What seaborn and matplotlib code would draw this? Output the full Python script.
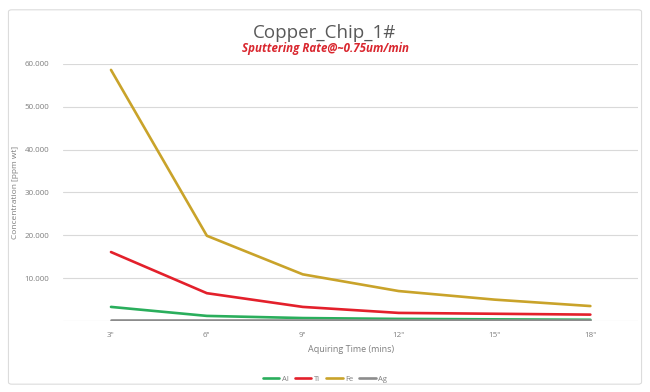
import pandas as pd
import matplotlib.pyplot as plt
import seaborn as sns
from matplotlib.patches import FancyBboxPatch

times = ['3"', '6"', '9"', '12"', '15"', '18"']
al = [3300, 1200, 700, 500, 400, 300]
ti = [16100, 6500, 3300, 1900, 1700, 1500]
fe = [58600, 19900, 10900, 7000, 5000, 3500]
ag = [150, 150, 150, 150, 150, 150]
elements = ['Al', 'Ti', 'Fe', 'Ag']
colors = ['#2aae5c', '#e3202b', '#c9a32a', '#8c8c8c']
yticks = [10000, 20000, 30000, 40000, 50000, 60000]

df = pd.DataFrame({
    'time': times * 4,
    'conc': al + ti + fe + ag,
    'element': [e for e in elements for _ in times],
})

sns.set_style('white')
plt.rcParams['font.family'] = ['Open Sans', 'DejaVu Sans']

fig = plt.figure(figsize=(6.5, 3.92), dpi=100)
# thin rounded frame like the Excel chart area
fig.patches.append(FancyBboxPatch((0.013, 0.02), 0.974, 0.955, boxstyle='round,pad=0,rounding_size=0.005',
                                  transform=fig.transFigure, fill=False, edgecolor='#dcdcdc', linewidth=0.8))
ax = fig.add_axes([0.097, 0.181, 0.885, 0.656])

sns.lineplot(data=df, x='time', y='conc', hue='element', palette=colors, linewidth=1.9,
             sort=False, ax=ax, legend=False)

ax.set_xlim(-0.5, len(times) - 0.5)
ax.set_ylim(0, 60000)
ax.set_yticks(yticks)
ax.set_yticklabels([f'{t:,}'.replace(',', '.') for t in yticks], fontsize=5.8, color='#7f7f7f')
ax.tick_params(axis='x', labelsize=5.8, labelcolor='#7f7f7f', length=0, pad=8)
ax.tick_params(axis='y', length=0, pad=10)
ax.grid(axis='y', color='#d9d9d9', linewidth=0.8)
ax.axhline(0, color='#d9d9d9', linewidth=0.8, zorder=0)
for s in ax.spines.values():
    s.set_visible(False)

ax.set_xlabel('Aquiring Time (mins)', fontsize=6.5, color='#7f7f7f', labelpad=4)
ax.set_ylabel('Concentration [ppm wt]', fontsize=6, color='#7f7f7f', labelpad=4)

fig.text(0.5, 0.915, 'Copper_Chip_1#', ha='center', va='center', fontsize=13.5, color='#595959')
fig.text(0.5, 0.877, 'Sputtering Rate@~0.75um/min', ha='center', va='center', fontsize=8.3,
         color='#d9262e', fontweight='bold', style='italic')

handles = [plt.Line2D([], [], color=c, linewidth=1.9) for c in colors]
fig.legend(handles, elements, loc='center', bbox_to_anchor=(0.5, 0.033), ncol=4, frameon=False,
           fontsize=5.5, handlelength=2.2, handletextpad=0.3, columnspacing=0.8, labelcolor='#7f7f7f')

fig.savefig('out.png', dpi=100)
